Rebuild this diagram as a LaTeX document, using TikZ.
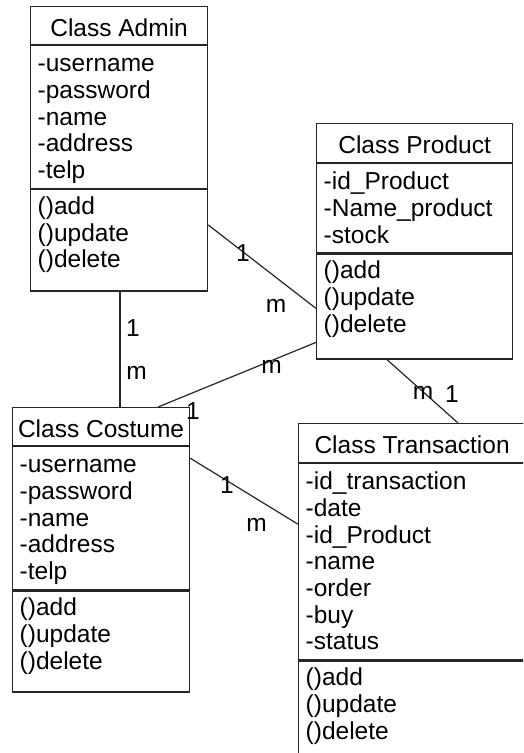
\documentclass[tikz,border=0pt]{standalone}
\usepackage{fontspec}
\setmainfont{Liberation Sans}

\tikzset{
  part/.style={draw=black!85, line width=1.2pt, anchor=north west, inner sep=0pt},
  head/.style={text height=21pt, text depth=0pt},
  members/.style={anchor=base west, align=left, inner sep=0pt},
  mult/.style={inner sep=0pt},
  link/.style={draw=black!85, line width=1.2pt}
}

\begin{document}
\begin{tikzpicture}[x=1pt,y=-1pt,font=\fontsize{24.5pt}{26.7pt}\selectfont]
        \clip (0,0) rectangle (523,753);
        % Class Admin
        \node[part,head,minimum width=177pt,minimum height=38pt] (adminT) at (30,6) {Class Admin};
        \node[part,minimum width=177pt,minimum height=142.5pt] (adminA) at (adminT.south west) {};
        \node[part,minimum width=177pt,minimum height=101.5pt] (adminM) at (adminA.south west) {};
        % text nodes sit on the baseline of their last line
        \node[members] (adminAtx) at ([xshift=7.5pt,yshift=-133.3pt]adminA.north west) {-username\\-password\\-name\\-address\\-telp};
        \node[members] (adminMtx) at ([xshift=7.5pt,yshift=-78.9pt]adminM.north west) {()add\\()update\\()delete};
        % Class Product
        \node[part,head,minimum width=196pt,minimum height=39pt] (prodT) at (316,123) {Class Product};
        \node[part,minimum width=196pt,minimum height=89pt] (prodA) at (prodT.south west) {};
        \node[part,minimum width=196pt,minimum height=105pt] (prodM) at (prodA.south west) {};
        \node[members] (prodAtx) at ([xshift=7.5pt,yshift=-79.9pt]prodA.north west) {-id\_Product\\-Name\_product\\-stock};
        \node[members] (prodMtx) at ([xshift=7.5pt,yshift=-78.9pt]prodM.north west) {()add\\()update\\()delete};
        % Class Costume
        \node[part,head,minimum width=177pt,minimum height=38pt] (costT) at (12,407) {Class Costume};
        \node[part,minimum width=177pt,minimum height=143pt] (costA) at (costT.south west) {};
        \node[part,minimum width=177pt,minimum height=101pt] (costM) at (costA.south west) {};
        \node[members] (costAtx) at ([xshift=7.5pt,yshift=-133.3pt]costA.north west) {-username\\-password\\-name\\-address\\-telp};
        \node[members] (costMtx) at ([xshift=7.5pt,yshift=-78.9pt]costM.north west) {()add\\()update\\()delete};
        % Class Transaction
        \node[part,head,minimum width=227pt,minimum height=39pt] (transT) at (298,423) {Class Transaction};
        \node[part,minimum width=227pt,minimum height=196pt] (transA) at (transT.south west) {};
        \node[part,minimum width=227pt,minimum height=130pt] (transM) at (transA.south west) {};
        \node[members] (transAtx) at ([xshift=7.5pt,yshift=-186.7pt]transA.north west) {-id\_transaction\\-date\\-id\_Product\\-name\\-order\\-buy\\-status};
        \node[members] (transMtx) at ([xshift=7.5pt,yshift=-78.9pt]transM.north west) {()add\\()update\\()delete};
        % relations
        \draw[link] ([yshift=-36pt]adminM.north east) -- ([yshift=-55pt]prodM.north west);
        \draw[link] ([xshift=90pt]adminM.south west) -- ([xshift=108pt]costT.north west);
        \draw[link] ([xshift=146pt]costT.north west) -- ([yshift=-89pt]prodM.north west);
        \draw[link] ([xshift=71pt]prodM.south west) -- ([xshift=160pt]transT.north west);
        \draw[link] ([yshift=-12pt]costA.north east) -- ([yshift=-61pt]transA.north west);
        % multiplicities
        \node[mult] (ap1) at (243,253) {1};
        \node[mult] (apm) at (276,306) {m};
        \node[mult] (ac1) at (133,328) {1};
        \node[mult] (acm) at (136.5,373) {m};
        \node[mult] (cpm) at (271.5,367) {m};
        \node[mult] (cp1) at (193,411) {1};
        \node[mult] (ptm) at (423,393) {m};
        \node[mult] (pt1) at (452,394) {1};
        \node[mult] (ct1) at (227,485) {1};
        \node[mult] (ctm) at (256.5,525) {m};
\end{tikzpicture}
\end{document}
